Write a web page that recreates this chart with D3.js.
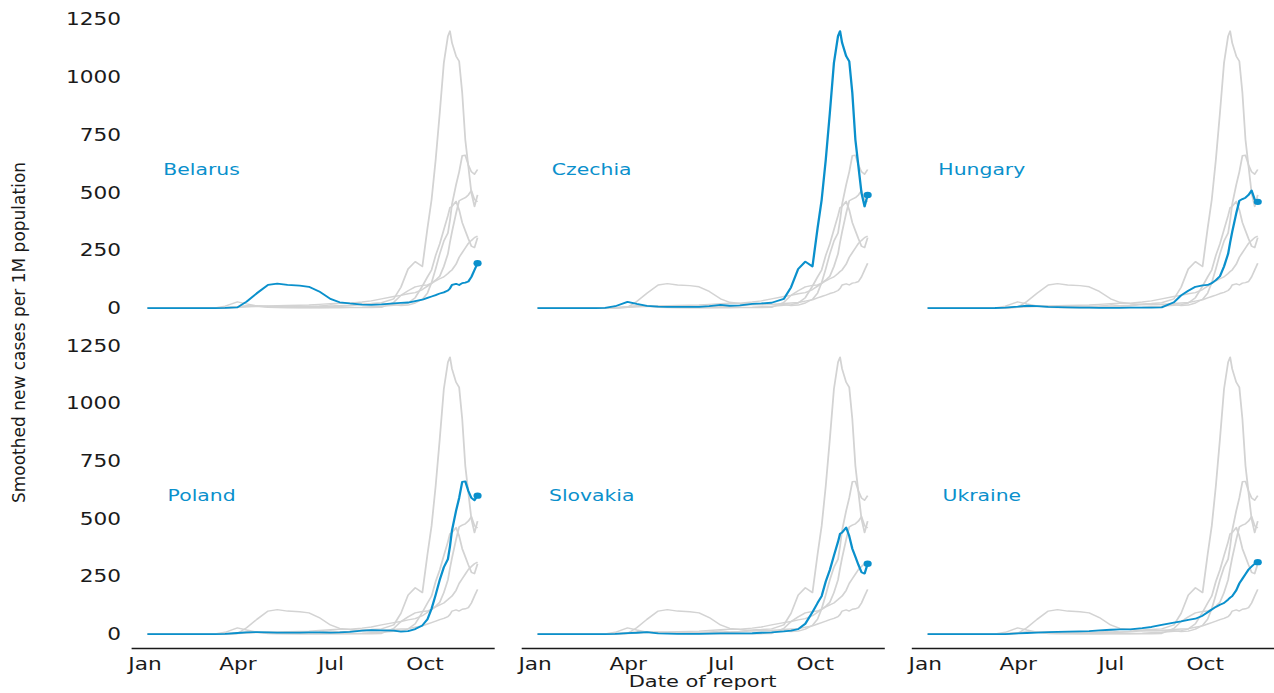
<!DOCTYPE html>
<html>
<head>
<meta charset="utf-8">
<script src="https://cdn.jsdelivr.net/npm/d3@7"></script>
<style>
  body { margin: 0; background: #fff; }
  text { font-family: "DejaVu Sans", sans-serif; }
</style>
</head>
<body>
<div id="chart"></div>
<script>
// dates de report (pas irrégulier : plus serré en automne)
var dates = ["2020-01-04","2020-01-20","2020-02-10","2020-03-01","2020-03-10","2020-03-20",
  "2020-04-01","2020-04-10","2020-04-20","2020-05-01","2020-05-10","2020-05-20",
  "2020-06-01","2020-06-10","2020-06-20","2020-07-01","2020-07-10","2020-07-20",
  "2020-08-01","2020-08-10","2020-08-20","2020-09-01","2020-09-08","2020-09-15",
  "2020-09-22","2020-09-29","2020-10-04","2020-10-08","2020-10-12","2020-10-16",
  "2020-10-20","2020-10-24","2020-10-26","2020-10-28","2020-11-01","2020-11-04",
  "2020-11-07","2020-11-10","2020-11-13","2020-11-16","2020-11-19","2020-11-22"];

// nouveaux cas lissés par million d'habitants
var belarus  = [0,0,0,0,0,0.5, 3,28,64,100,106,100, 97,92,72,40,25,20, 15,14,16,20,22,24, 30,36,44,50,56,63, 68,76,85,100,105,100, 108,110,115,135,165,194];
var czechia  = [0,0,0,0,0.5,8, 27,18,9,6,5,5, 5,5,8,14,10,12, 18,20,23,40,90,169, 201,180,346,469,642,845, 1062,1178,1200,1149,1091,1069, 932,729,613,498,440,490];
var hungary  = [0,0,0,0,0.3,2, 6,10,8,5,4,3, 2,2,1,1,1,2, 2,2,3,25,55,75, 92,98,100,108,121,138, 180,235,285,330,411,465, 472,478,490,509,470,460];
var poland   = [0,0,0,0,0.3,1.5, 5,8,9,8,7,7, 7,8,8,7,8,10, 15,17,16,15,11,13, 22,38,65,110,170,235, 290,325,380,450,535,590, 660,662,620,590,580,600];
var slovakia = [0,0,0,0,0,1, 4,6,9,3,2,1, 1,1,2,3,3,3, 4,6,8,12,15,22, 45,95,135,165,228,278, 340,400,435,440,462,425, 370,335,300,268,262,305];
var ukraine  = [0,0,0,0,0,0.5, 3,5,7,9,10,11, 12,13,16,19,21,21, 26,31,40,50,55,62, 67,80,95,107,118,127, 135,150,158,165,190,220, 240,260,280,293,305,312];

var countries = ["Belarus","Czechia","Hungary","Poland","Slovakia","Ukraine"];
var series = [belarus, czechia, hungary, poland, slovakia, ukraine];
var yTicks = [0, 250, 500, 750, 1000, 1250];
var xTicks = ["2020-01-01","2020-04-01","2020-07-01","2020-10-01"];
var labelDate = "2020-02-26", labelValue = 600;

var blue = "#0a90cc", grey = "#d3d3d3", ink = "#1a1a1a";

// l'image d'origine est étirée horizontalement : on dessine dans 1000 unités de large
var W = 1274, H = 693, VW = 1000, sx = W / VW;
var pw = 285, ph = 304.7, gapX = 21.2, gapY = 21.4, marginLeft = 102.8, marginTop = 17.2;

var parse = d3.timeParse("%Y-%m-%d");
var dd = dates.map(parse);

var data = countries.map(function(c, i) {
  return { name: c, values: series[i].map(function(v, j) { return { date: dd[j], value: v }; }) };
});

// marges de 5 % comme matplotlib
var ext = d3.extent(dd), span = ext[1] - ext[0];
var x = d3.scaleTime()
  .domain([new Date(+ext[0] - span * 0.05), new Date(+ext[1] + span * 0.05)])
  .range([0, pw]);
var ymax = d3.max(series, function(s) { return d3.max(s); });
var y = d3.scaleLinear().domain([-ymax * 0.05, ymax * 1.05]).range([ph, 0]);

var line = d3.line().x(function(d) { return x(d.date); }).y(function(d) { return y(d.value); });

var svg = d3.select("#chart").append("svg")
  .attr("width", W).attr("height", H)
  .attr("viewBox", "0 0 " + VW + " " + H)
  .attr("preserveAspectRatio", "none");

data.forEach(function(c, i) {
  var col = i % 3, row = Math.floor(i / 3);
  var g = svg.append("g")
    .attr("transform", "translate(" + (marginLeft + col * (pw + gapX)) + "," + (marginTop + row * (ph + gapY)) + ")");

  // les autres pays en gris
  g.selectAll("path.bg")
    .data(data.filter(function(o) { return o.name !== c.name; }))
    .enter().append("path")
    .attr("class", "bg")
    .attr("d", function(o) { return line(o.values); })
    .attr("fill", "none")
    .attr("stroke", grey)
    .attr("stroke-width", 1.4)
    .attr("stroke-linejoin", "round");

  // le pays en bleu
  g.append("path")
    .attr("d", line(c.values))
    .attr("fill", "none")
    .attr("stroke", blue)
    .attr("stroke-width", 1.8)
    .attr("stroke-linejoin", "round");

  var last = c.values[c.values.length - 1];
  g.append("circle")
    .attr("cx", x(last.date)).attr("cy", y(last.value))
    .attr("r", 3.2).attr("fill", blue);

  g.append("text")
    .attr("x", x(parse(labelDate))).attr("y", y(labelValue))
    .attr("dy", "0.36em")
    .attr("text-anchor", "middle")
    .attr("fill", blue)
    .style("font-size", "16px")
    .text(c.name);

  if (col === 0) {
    var ya = g.append("g")
      .call(d3.axisLeft(y).tickValues(yTicks).tickFormat(d3.format("d")).tickSize(0).tickPadding(7.8));
    ya.select(".domain").remove();
    ya.selectAll("text").attr("fill", ink).style("font-size", "17px").style("font-family", "DejaVu Sans");
  }

  if (row === 1) {
    var xa = g.append("g")
      .attr("transform", "translate(0," + ph + ")")
      .call(d3.axisBottom(x).tickValues(xTicks.map(parse)).tickFormat(d3.timeFormat("%b"))
        .tickSize(0).tickSizeOuter(0).tickPadding(9.6));
    xa.select(".domain").attr("stroke", ink).attr("stroke-width", 1.4);
    xa.selectAll("text").attr("fill", ink).style("font-size", "17px").style("font-family", "DejaVu Sans");
  }
});

// titres des axes
svg.append("text")
  .attr("x", marginLeft + pw + gapX + pw / 2).attr("y", 687.5)
  .attr("text-anchor", "middle")
  .attr("fill", ink)
  .style("font-size", "16.5px")
  .text("Date of report");

svg.append("text")
  .attr("transform", "translate(19.8,332.5) scale(" + (1 / sx) + ",1) rotate(-90)")
  .attr("text-anchor", "middle")
  .attr("fill", ink)
  .style("font-size", "17px")
  .text("Smoothed new cases per 1M population");
</script>
</body>
</html>
